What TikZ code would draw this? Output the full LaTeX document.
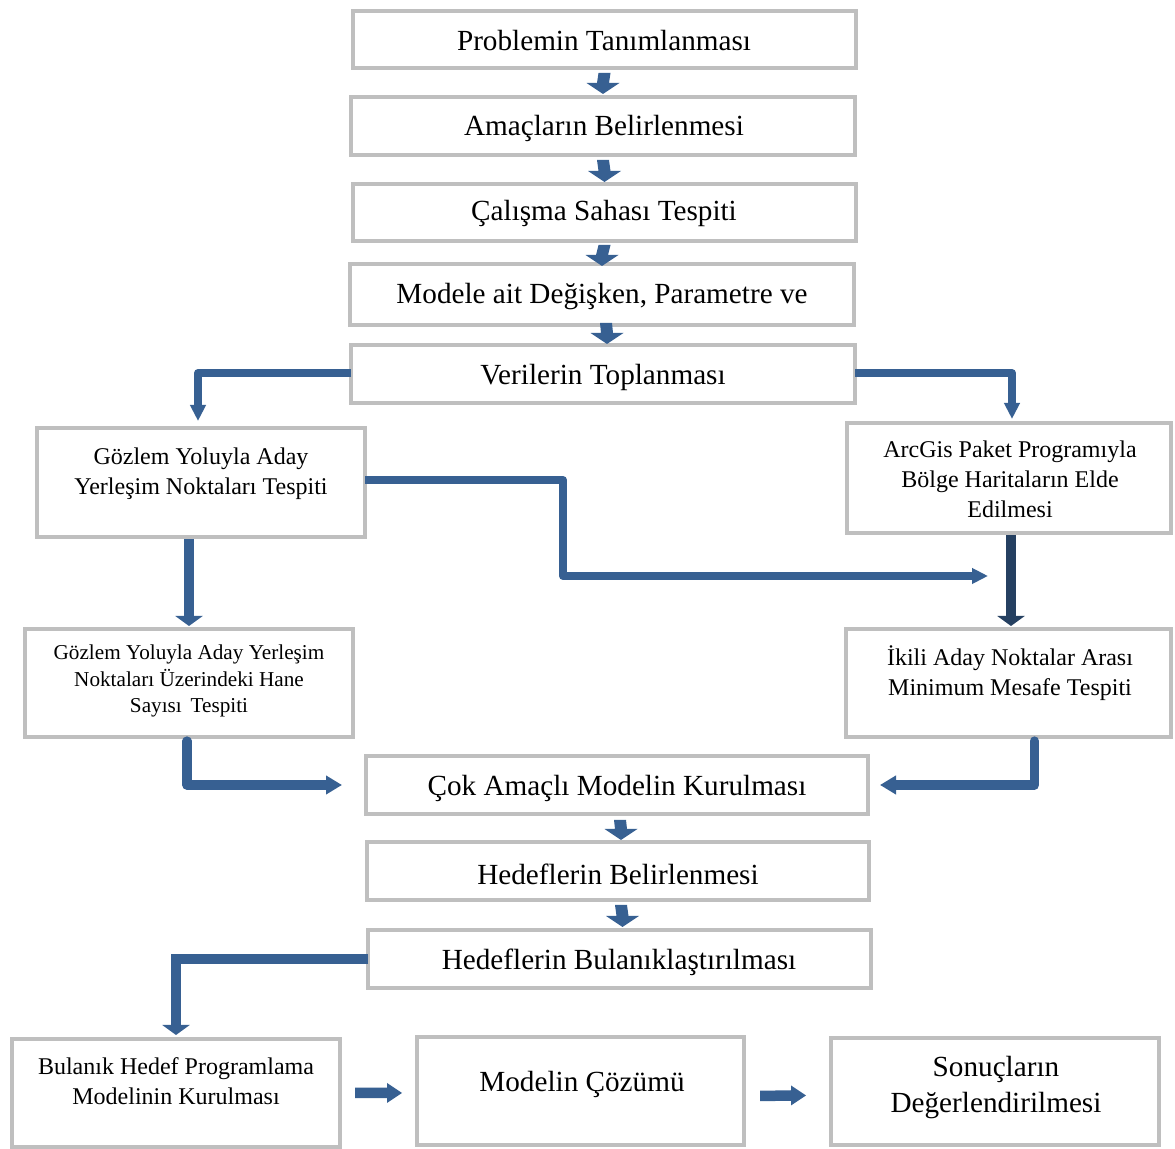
\documentclass[tikz,border=0pt]{standalone}
\usepackage{fontspec}
\setmainfont{Liberation Serif}
\usetikzlibrary{arrows.meta,fit,calc}
\definecolor{bord}{RGB}{191,191,191}
\definecolor{arrblue}{RGB}{55,96,146}
\definecolor{arrnavy}{RGB}{37,64,97}
% block arrow pointing down: #1 start (top of shaft), #2 tip
\newcommand{\blkdown}[2]{%
  \fill[arrblue] ($(#1)+(-6,0)$) -- ($(#1)+(6,0)$) -- ($(#2)+(6,-11)$) -- ($(#2)+(16.5,-11)$)
    -- (#2) -- ($(#2)+(-16.5,-11)$) -- ($(#2)+(-6,-11)$) -- cycle;}
% block arrow pointing right: #1 start (left end of shaft), #2 tip
\newcommand{\blkright}[2]{%
  \fill[arrblue] ($(#1)+(0,-5.25)$) -- ($(#2)+(-15,-5.25)$) -- ($(#2)+(-15,-10)$) -- (#2)
    -- ($(#2)+(-15,10)$) -- ($(#2)+(-15,5.25)$) -- ($(#1)+(0,5.25)$) -- cycle;}
\begin{document}
\begin{tikzpicture}[x=0.5pt,y=-0.5pt,
 box/.style={draw=bord, line width=2pt, fill=white, inner sep=0pt, outer sep=0pt},
 big/.style={font=\fontsize{14.6}{18}\selectfont, align=center, inner sep=0pt},
 mid/.style={font=\fontsize{12}{15}\selectfont, align=center, inner sep=0pt},
 small/.style={font=\fontsize{10.6}{13.25}\selectfont, align=center, inner sep=0pt},
 elbow/.style={draw=arrblue, line width=4pt, line join=round, -{Triangle[width=7.5pt,length=8pt]}},
 elbowb/.style={draw=arrblue, line width=4.6pt, line join=round, line cap=round, -{Triangle[width=9pt,length=8pt]}},
 elbowwide/.style={draw=arrblue, line width=4.6pt, -{Triangle[width=13.5pt,length=5pt]}},
]
\useasboundingbox[fill=white] (0,0) rectangle (1175,1149);

% boxes
\node[box, fit={(353,11) (856,68)}] (b1) {};
\node[box, fit={(351,97) (855,155)}] (b2) {};
\node[box, fit={(353,184) (856,241)}] (b3) {};
\node[box, fit={(350,264) (854,325)}] (b4) {};
\node[box, fit={(351,345) (855,403)}] (b5) {};
\node[box, fit={(37,428) (365,537)}] (b6) {};
\node[box, fit={(847,423) (1171,533)}] (b7) {};
\node[box, fit={(25,629) (353,737)}] (b8) {};
\node[box, fit={(846,629) (1171,737)}] (b9) {};
\node[box, fit={(366,756) (868,814)}] (b10) {};
\node[box, fit={(367,842) (869,900)}] (b11) {};
\node[box, fit={(368,930) (871,988)}] (b12) {};
\node[box, fit={(12,1039) (340,1147)}] (b13) {};
\node[box, fit={(417,1037) (744,1145)}] (b14) {};
\node[box, fit={(831,1038) (1159,1145)}] (b15) {};

% texts
\node[big] (t1) at (604,41) {Problemin Tanımlanması};
\node[big] (t2) at (604,128) {Amaçların Belirlenmesi};
\node[big] (t3) at (604,213) {Çalışma Sahası Tespiti};
\node[big] (t4) at (602,297) {Modele ait Değişken, Parametre ve};
\node[big] (t5) at (603,377) {Verilerin Toplanması};
\node[mid] (t6) at (201,474) {Gözlem Yoluyla Aday\\Yerleşim Noktaları Tespiti};
\node[mid] (t7) at (1010,479) {ArcGis Paket Programıyla\\Bölge Haritaların Elde\\Edilmesi};
\node[small] (t8) at (189,681) {Gözlem Yoluyla Aday Yerleşim\\Noktaları Üzerindeki Hane\\Sayısı\, Tespiti};
\node[mid] (t9) at (1010,673) {İkili Aday Noktalar Arası\\Minimum Mesafe Tespiti};
\node[big] (t10) at (617,788) {Çok Amaçlı Modelin Kurulması};
\node[big] (t11) at (618,874) {Hedeflerin Belirlenmesi};
\node[big] (t12) at (619,962) {Hedeflerin Bulanıklaştırılması};
\node[mid] (t13) at (176,1081) {Bulanık Hedef Programlama\\Modelinin Kurulması};
\node[big] (t14) at (582,1084) {Modelin Çözümü};
\node[big] (t15) at (996,1088) {Sonuçların\\Değerlendirilmesi};

% stacked block arrows (connect box to box)
\coordinate (a1s) at ($(b1.south)+(0,5)$);  \coordinate (a1e) at ($(b2.north)+(0,-3)$);
\coordinate (a2s) at ($(b2.south)+(0,5)$);  \coordinate (a2e) at ($(b3.north)+(0,-2)$);
\coordinate (a3s) at ($(b3.south)+(0,4)$);  \coordinate (a3e) at ($(b4.north)+(0,2)$);
\coordinate (a4s) at ($(b4.south)+(4,-2)$); \coordinate (a4e) at ($(b5.north)+(4,-1)$);
\coordinate (a5s) at ($(b10.south)+(3,6)$); \coordinate (a5e) at ($(b11.north)+(3,-2)$);
\coordinate (a6s) at ($(b11.south)+(3,5)$); \coordinate (a6e) at ($(b12.north)+(3,-3)$);
\blkdown{a1s}{a1e}
\blkdown{a2s}{a2e}
\blkdown{a3s}{a3e}
\blkdown{a4s}{a4e}
\blkdown{a5s}{a5e}
\blkdown{a6s}{a6e}

% elbow connectors
\draw[elbow, shorten >=3.5pt] ([yshift=0.5pt]b5.west) -| ([xshift=-1.5pt]b6.north);
\draw[elbow, shorten >=2pt] ([yshift=0.5pt]b5.east) -| ([xshift=1.5pt]b7.north);
\coordinate (cbend) at (563,576);
\coordinate (cend) at (988,576);
\draw[elbow] ([yshift=1.25pt]b6.east) -| (cbend) -- (cend);
\draw[elbowwide, shorten <=1pt, shorten >=1.5pt] (b8.north |- b6.south) -- (b8.north);
\draw[elbowwide, draw=arrnavy, shorten <=1pt, shorten >=1.5pt] ([xshift=1pt]b7.south) -- ([xshift=1pt]b7.south |- b9.north);
\draw[elbowb, shorten <=2pt, shorten >=12pt] ([xshift=-1pt]b8.south) |- (b10.west);
\draw[elbowb, shorten <=2pt, shorten >=6pt] ([xshift=13pt]b9.south) |- (b10.east);
\draw[elbowwide, shorten >=2pt] (b12.west) -| (b13.north);

% horizontal block arrows
\coordinate (h1s) at ($(b13.east)+(15,0)$); \coordinate (h1e) at ($(b14.west)+(-15,2)$);
\coordinate (h2s) at ($(b14.east)+(16,5)$); \coordinate (h2e) at ($(b15.west)+(-25,4)$);
\blkright{h1s}{h1e}
\blkright{h2s}{h2e}
\end{tikzpicture}
\end{document}
